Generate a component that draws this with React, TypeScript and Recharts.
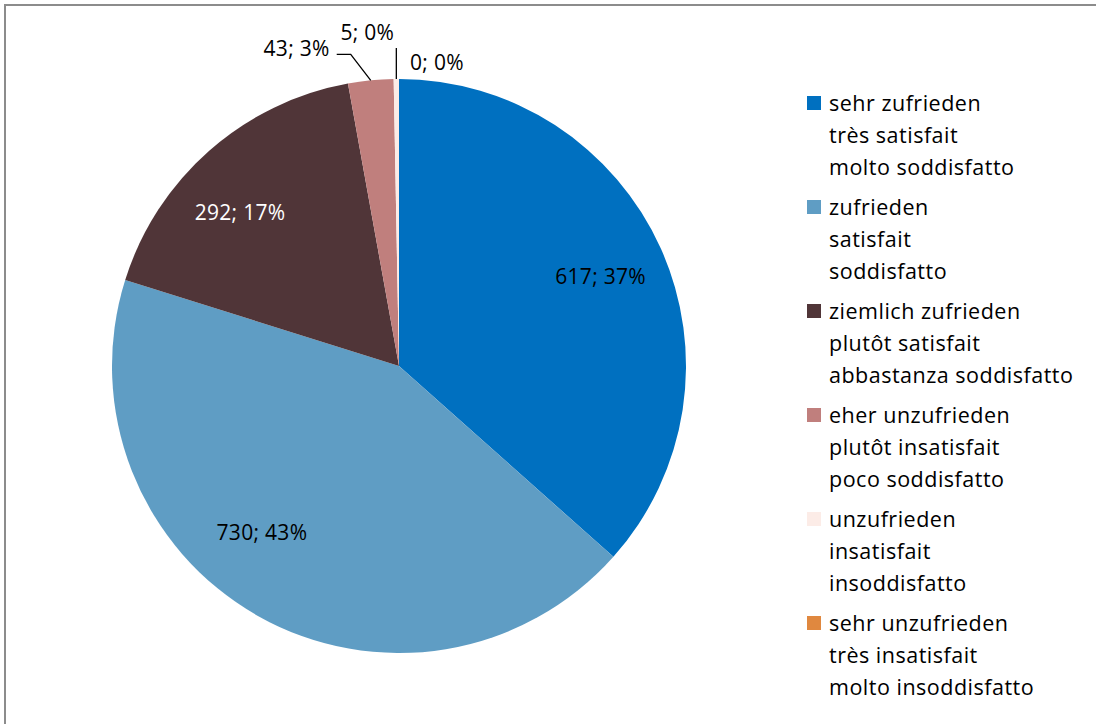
import { PieChart, Pie, Cell, Legend } from 'recharts';

const categories = [
  ['sehr zufrieden', 'très satisfait', 'molto soddisfatto'],
  ['zufrieden', 'satisfait', 'soddisfatto'],
  ['ziemlich zufrieden', 'plutôt satisfait', 'abbastanza soddisfatto'],
  ['eher unzufrieden', 'plutôt insatisfait', 'poco soddisfatto'],
  ['unzufrieden', 'insatisfait', 'insoddisfatto'],
  ['sehr unzufrieden', 'très insatisfait', 'molto insoddisfatto'],
];
const counts = [617, 730, 292, 43, 5, 0];
const colors = ['#0070C0', '#5F9DC4', '#503538', '#C07F7D', '#FCECE7', '#E0883F'];

const total = counts.reduce((a, b) => a + b, 0);
const data = counts.map((v, i) => ({ name: categories[i][0], value: v }));

const FONT = '"Open Sans", "Noto Sans", sans-serif';
const LABEL_SIZE = 21;
const RAD = Math.PI / 180;
// best-fit style nudges for the inside labels (degrees, radius fraction)
const insideNudge = [0, -10, 4.6];
const insideRadius = [0.77, 0.75, 0.77];

function renderLabel(props: any) {
  const { cx, cy, midAngle, outerRadius, index, value } = props;
  const text = `${value}; ${Math.round((value / total) * 100)}%`;
  const common = { fontSize: LABEL_SIZE, fontFamily: FONT, letterSpacing: 0.3, dominantBaseline: 'central' as const };
  if (index < 3) {
    const a = (midAngle + insideNudge[index]) * RAD;
    const r = outerRadius * insideRadius[index];
    return (
      <text
        x={cx + r * Math.cos(-a)}
        y={cy + r * Math.sin(-a)}
        textAnchor="middle"
        fill={index === 2 ? '#fff' : '#000'}
        {...common}
      >
        {text}
      </text>
    );
  }
  const ex = cx + outerRadius * Math.cos(-midAngle * RAD);
  const ey = cy + outerRadius * Math.sin(-midAngle * RAD);
  if (index === 3) {
    return (
      <g>
        <polyline points={`${ex},${ey} ${ex - 20},${ey - 26} ${ex - 34},${ey - 26}`} fill="none" stroke="#000" strokeWidth={1.3} />
        <text x={ex - 41} y={ey - 32} textAnchor="end" fill="#000" {...common}>
          {text}
        </text>
      </g>
    );
  }
  if (index === 4) {
    return (
      <g>
        <line x1={ex} y1={ey} x2={ex} y2={ey - 31} stroke="#000" strokeWidth={1.3} />
        <text x={ex - 29} y={ey - 47} textAnchor="middle" fill="#000" {...common}>
          {text}
        </text>
      </g>
    );
  }
  return (
    <text x={ex + 38} y={ey - 17} textAnchor="middle" fill="#000" {...common}>
      {text}
    </text>
  );
}

function LegendBox() {
  return (
    <div style={{ fontFamily: FONT, fontSize: 21.5, letterSpacing: 0.5, color: '#000' }}>
      {categories.map((lines, i) => (
        <div key={i} style={{ position: 'relative', paddingLeft: 22, height: 104 }}>
          <div style={{ position: 'absolute', left: 0, top: 9, width: 14, height: 14, background: colors[i] }} />
          {lines.map((l) => (
            <div key={l} style={{ height: 32, lineHeight: '32px', whiteSpace: 'nowrap' }}>
              {l}
            </div>
          ))}
        </div>
      ))}
    </div>
  );
}

export default function App() {
  return (
    <div style={{ position: 'absolute', left: 0, top: 0, width: 1096, height: 724, overflow: 'hidden', background: '#fff' }}>
      <div
        style={{
          position: 'absolute',
          left: 4,
          top: 4,
          width: 1200,
          height: 800,
          border: '2px solid #8c8c8c',
        }}
      />
      <PieChart
        width={1096}
        height={724}
        margin={{ top: 0, right: 0, bottom: 0, left: 0 }}
        style={{ position: 'absolute', left: 0, top: 0 }}
      >
        <Pie
          data={data}
          dataKey="value"
          cx={399}
          cy={366}
          outerRadius={287}
          startAngle={90}
          endAngle={-270}
          stroke="none"
          label={renderLabel}
          labelLine={false}
          isAnimationActive={false}
        >
          {data.map((d, i) => (
            <Cell key={d.name} fill={colors[i]} />
          ))}
        </Pie>
        <Legend
          layout="vertical"
          align="right"
          verticalAlign="top"
          content={<LegendBox />}
          wrapperStyle={{ left: 807, top: 87, width: 285 }}
        />
      </PieChart>
    </div>
  );
}
